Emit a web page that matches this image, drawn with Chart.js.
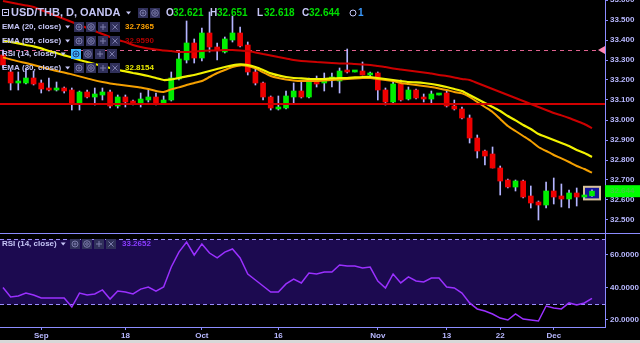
<!DOCTYPE html>
<html>
<head>
<meta charset="utf-8">
<script src="https://cdn.jsdelivr.net/npm/chart.js@4"></script>
<style>
  html, body { margin: 0; padding: 0; background: #000; width: 640px; height: 343px; overflow: hidden; }
  #wrap { position: relative; width: 640px; height: 343px; }
  canvas { position: absolute; left: 0; }
  #price { top: 0; }
  #rsi { top: 234px; }
  #foot { position: absolute; left: 0; top: 340px; width: 640px; height: 3px; background: #d8d8d8; }
</style>
</head>
<body>
<div id="wrap">
  <canvas id="price" width="640" height="234"></canvas>
  <canvas id="rsi" width="640" height="106"></canvas>
  <div id="foot"></div>
</div>
<script>
// USD/THB daily candles (one entry per trading day, oldest first)
const opens = [33.325,33.24,33.185,33.185,33.21,33.185,33.16,33.15,33.16,33.15,
  33.08,33.14,33.115,33.125,33.14,33.07,33.115,33.095,33.08,33.10,
  33.115,33.085,33.10,33.205,33.30,33.385,33.31,33.435,33.365,33.34,
  33.40,33.435,33.375,33.24,33.185,33.115,33.055,33.06,33.115,33.145,
  33.115,33.195,33.185,33.205,33.195,33.245,33.24,33.245,33.225,33.235,
  33.15,33.09,33.18,33.105,33.15,33.115,33.105,33.125,33.135,33.07,
  33.055,33.01,32.91,32.845,32.83,32.76,32.70,32.665,32.695,32.62,
  32.59,32.575,32.645,32.62,32.605,32.635,32.615,32.621];
const highs = [33.35,33.25,33.24,33.26,33.245,33.20,33.21,33.19,33.165,33.16,
  33.145,33.15,33.16,33.16,33.15,33.125,33.125,33.10,33.135,33.15,
  33.135,33.12,33.24,33.34,33.495,33.405,33.46,33.54,33.385,33.415,
  33.52,33.465,33.39,33.26,33.19,33.12,33.12,33.145,33.185,33.19,
  33.21,33.22,33.235,33.235,33.26,33.355,33.245,33.29,33.24,33.24,
  33.16,33.19,33.20,33.165,33.155,33.13,33.145,33.13,33.145,33.10,
  33.065,33.025,32.925,32.85,32.865,32.77,32.705,32.70,32.70,32.67,
  32.595,32.69,32.71,32.68,32.65,32.66,32.625,32.651];
const lows = [33.26,33.15,33.15,33.18,33.175,33.135,33.145,33.145,33.135,33.05,
  33.05,33.11,33.075,33.10,33.06,33.06,33.065,33.075,33.065,33.09,
  33.075,33.08,33.095,33.20,33.285,33.285,33.295,33.34,33.30,33.335,
  33.39,33.365,33.225,33.175,33.10,33.05,33.05,33.055,33.085,33.11,
  33.11,33.165,33.145,33.165,33.135,33.235,33.24,33.225,33.215,33.10,
  33.075,33.085,33.095,33.10,33.105,33.09,33.085,33.125,33.065,33.05,
  33.005,32.885,32.81,32.775,32.76,32.625,32.66,32.645,32.61,32.56,
  32.50,32.56,32.58,32.565,32.56,32.57,32.61,32.618];
const closes = [33.275,33.185,33.195,33.21,33.18,33.155,33.15,33.16,33.145,33.085,
  33.14,33.115,33.13,33.14,33.07,33.115,33.09,33.085,33.105,33.115,
  33.085,33.10,33.21,33.305,33.385,33.31,33.435,33.365,33.35,33.405,
  33.435,33.37,33.24,33.185,33.115,33.06,33.065,33.12,33.145,33.115,
  33.195,33.18,33.20,33.21,33.245,33.24,33.245,33.225,33.235,33.15,
  33.09,33.18,33.10,33.15,33.11,33.105,33.13,33.13,33.07,33.055,
  33.01,32.91,32.845,32.82,32.76,32.695,32.665,32.695,32.615,32.585,
  32.575,32.645,32.615,32.605,32.635,32.615,32.622,32.644];

const ema20 = [33.313,33.303,33.293,33.285,33.275,33.265,33.255,33.245,33.238,33.228,
  33.218,33.208,33.198,33.19,33.183,33.178,33.173,33.168,33.163,33.155,
  33.145,33.14,33.153,33.163,33.175,33.185,33.195,33.215,33.235,33.25,
  33.265,33.273,33.27,33.258,33.238,33.22,33.21,33.203,33.198,33.195,
  33.195,33.195,33.198,33.20,33.203,33.205,33.208,33.21,33.21,33.205,
  33.20,33.195,33.185,33.18,33.175,33.17,33.165,33.158,33.15,33.14,
  33.133,33.115,33.09,33.065,33.04,33.005,32.97,32.945,32.92,32.895,
  32.865,32.845,32.825,32.808,32.79,32.77,32.755,32.7365];
const ema30 = [33.398,33.39,33.383,33.375,33.368,33.358,33.345,33.335,33.323,33.313,
  33.30,33.29,33.28,33.27,33.26,33.25,33.243,33.235,33.228,33.22,
  33.21,33.20,33.203,33.21,33.218,33.225,33.235,33.245,33.255,33.265,
  33.273,33.278,33.275,33.265,33.25,33.233,33.223,33.215,33.21,33.208,
  33.205,33.205,33.205,33.208,33.21,33.21,33.213,33.215,33.215,33.21,
  33.205,33.20,33.195,33.19,33.188,33.185,33.18,33.173,33.165,33.155,
  33.145,33.125,33.105,33.085,33.065,33.045,33.02,32.998,32.975,32.955,
  32.93,32.915,32.90,32.885,32.87,32.85,32.835,32.8154];
const ema55 = [33.595,33.588,33.58,33.573,33.565,33.55,33.535,33.52,33.505,33.49,
  33.475,33.46,33.445,33.43,33.415,33.40,33.39,33.375,33.365,33.358,
  33.353,33.348,33.345,33.34,33.34,33.343,33.345,33.348,33.348,33.35,
  33.35,33.348,33.345,33.338,33.33,33.323,33.315,33.308,33.30,33.295,
  33.293,33.29,33.288,33.285,33.283,33.283,33.28,33.278,33.275,33.27,
  33.265,33.258,33.253,33.248,33.243,33.238,33.233,33.225,33.22,33.213,
  33.205,33.20,33.185,33.17,33.155,33.14,33.125,33.11,33.095,33.08,
  33.065,33.05,33.035,33.023,33.01,32.995,32.98,32.959];

const rsi14 = [40,34.2,34.8,36.6,35.4,33.5,33.5,33.6,33.5,28,
  36.6,35.4,36,38.5,32.9,37.8,37.2,36,39,40.3,
  37.8,40.3,52.6,61.8,68,60,66.8,61.2,58.2,61.8,
  63.7,58.2,48.3,44.6,40.9,37.2,37.2,42.2,45.2,42.8,
  48.9,48.3,49.5,49.5,53.8,53.2,53.2,52,52.6,44,
  39.7,48.3,42.8,46.5,44,43.4,45.8,45.8,40.3,39.7,
  36.6,30.5,26.8,25.5,23.7,21.2,20,23.7,20.6,20,
  19.4,28.6,27.4,26.8,30.5,29.2,30.5,33.2652];

const dateTickIdx = [5, 16, 26, 36, 49, 58, 65, 72];
const dateTickText = ['Sep', '18', 'Oct', '16', 'Nov', '13', '22', 'Dec'];
const priceTicks = [32.5, 32.6, 32.7, 32.8, 32.9, 33.0, 33.1, 33.2, 33.3, 33.4, 33.5, 33.6];
const rsiTicks = [20, 40, 60];
const supportLevel = 33.08;
const alertLevel = 33.35;
const rsiBand = [30, 70];

const UP = '#00ee00', DOWN = '#ee0000', WICK = '#b4b4ff';
const AXIS = '#8c8cff', LABEL = '#b8b8ff', TEXT = '#c6c6f6';
const FONT = '"Liberation Sans", Arial, sans-serif';
const last = opens.length - 1;

const isUp = i => closes[i] >= opens[i];
const bodies = opens.map((o, i) => ({ x: i, y: [Math.min(o, closes[i]), Math.max(o, closes[i])] }));
const wicks = lows.map((l, i) => ({ x: i, y: [l, highs[i]] }));
const pts = arr => arr.map((v, i) => ({ x: i, y: v }));
const candleColors = opens.map((o, i) => isUp(i) ? UP : DOWN);

const xRange = { min: -0.39, max: 78.7 };

function caret(ctx, x, y) {
  ctx.fillStyle = TEXT;
  ctx.beginPath();
  ctx.moveTo(x, y - 1.5); ctx.lineTo(x + 5, y - 1.5); ctx.lineTo(x + 2.5, y + 1.5);
  ctx.closePath(); ctx.fill();
}

function boxes(ctx, x0, y, kinds, highlight) {
  kinds.forEach((g, i) => {
    const bx = x0 + i * 12;
    const hl = highlight && i === 0;
    ctx.fillStyle = hl ? '#3fb6ff' : '#30305a';
    ctx.fillRect(bx, y - 5, 10, 10);
    ctx.strokeStyle = hl ? '#1a3c80' : '#7c7cab';
    ctx.lineWidth = 1;
    ctx.beginPath();
    if (g === 'eye') {
      ctx.arc(bx + 5, y, 3, 0, Math.PI * 2);
      ctx.moveTo(bx + 6, y); ctx.arc(bx + 5, y, 1, 0, Math.PI * 2);
    } else if (g === 'gear') {
      ctx.arc(bx + 5, y, 3.3, 0, Math.PI * 2);
      ctx.moveTo(bx + 6.3, y); ctx.arc(bx + 5, y, 1.3, 0, Math.PI * 2);
    } else if (g === 'plus') {
      ctx.moveTo(bx + 2, y); ctx.lineTo(bx + 8, y);
      ctx.moveTo(bx + 5, y - 3); ctx.lineTo(bx + 5, y + 3);
    } else {
      ctx.moveTo(bx + 2.5, y - 2.5); ctx.lineTo(bx + 7.5, y + 2.5);
      ctx.moveTo(bx + 7.5, y - 2.5); ctx.lineTo(bx + 2.5, y + 2.5);
    }
    ctx.stroke();
  });
}

function text(ctx, s, x, y, color, font) {
  ctx.font = font;
  ctx.fillStyle = color;
  ctx.textBaseline = 'middle';
  ctx.textAlign = 'left';
  ctx.fillText(s, x, y);
}

const ALL = ['eye', 'gear', 'plus', 'cross'];

const priceOverlay = {
  id: 'priceOverlay',
  beforeDatasetsDraw(chart) {
    const { ctx, chartArea: a, scales: { x, y } } = chart;
    ctx.save();
    // alert level
    const ya = Math.round(y.getPixelForValue(alertLevel)) + 0.5;
    ctx.strokeStyle = '#e0628f';
    ctx.lineWidth = 1;
    ctx.setLineDash([4, 4]);
    ctx.beginPath(); ctx.moveTo(a.left, ya); ctx.lineTo(a.right, ya); ctx.stroke();
    ctx.setLineDash([]);
    // highlighted last bar
    const cx = x.getPixelForValue(last);
    const t = y.getPixelForValue(highs[last]) - 3, b = y.getPixelForValue(lows[last]) + 3;
    ctx.fillStyle = '#14149a';
    ctx.fillRect(cx - 8, t, 16, b - t);
    ctx.strokeStyle = '#d9c39a';
    ctx.lineWidth = 2;
    ctx.strokeRect(cx - 8, t, 16, b - t);
    ctx.restore();
  },
  afterDatasetsDraw(chart) {
    const { ctx, chartArea: a, scales: { y } } = chart;
    ctx.save();
    const ys = y.getPixelForValue(supportLevel);
    ctx.strokeStyle = '#d00000';
    ctx.lineWidth = 2;
    ctx.beginPath(); ctx.moveTo(a.left, ys); ctx.lineTo(a.right, ys); ctx.stroke();
    ctx.restore();
  },
  afterDraw(chart) {
    const { ctx, chartArea: a, scales: { y } } = chart;
    ctx.save();
    // alert marker on axis
    const ya = y.getPixelForValue(alertLevel);
    ctx.fillStyle = '#ff86b6';
    ctx.beginPath();
    ctx.moveTo(a.right - 7, ya); ctx.lineTo(a.right, ya - 4); ctx.lineTo(a.right, ya + 4);
    ctx.closePath(); ctx.fill();
    // last price label
    const yl = y.getPixelForValue(closes[last]);
    ctx.fillStyle = '#00ff00';
    ctx.fillRect(a.right, yl - 6, 640 - a.right, 12);
    text(ctx, closes[last].toFixed(3), a.right + 5, yl, '#3fcf3f', 'bold 8px ' + FONT);
    // pane separator
    ctx.strokeStyle = AXIS;
    ctx.lineWidth = 1;
    ctx.beginPath(); ctx.moveTo(0, 233.5); ctx.lineTo(640, 233.5); ctx.stroke();

    // header
    ctx.strokeStyle = TEXT;
    ctx.strokeRect(2.5, 9.5, 6, 6);
    ctx.beginPath(); ctx.moveTo(4, 12.5); ctx.lineTo(7, 12.5); ctx.stroke();
    text(ctx, 'USD/THB, D, OANDA', 11, 13, TEXT, 'bold 11px ' + FONT);
    caret(ctx, 126, 13);
    boxes(ctx, 138, 13, ['eye', 'gear'], false);
    const f10 = 'bold 10px ' + FONT;
    const ohlc = [['O', opens[last], 166], ['H', highs[last], 210], ['L', lows[last], 257], ['C', closes[last], 302]];
    ohlc.forEach(([k, v, px]) => {
      text(ctx, k, px, 13, TEXT, f10);
      text(ctx, v.toFixed(3), px + 7, 13, '#00dd00', f10);
    });
    // alarm
    ctx.strokeStyle = TEXT;
    ctx.beginPath(); ctx.arc(353, 13, 3, 0, Math.PI * 2); ctx.stroke();
    text(ctx, '1', 358, 13, '#3b9bff', f10);

    const f8 = 'bold 8px ' + FONT;
    const rows = [
      ['EMA (20, close)', 27, ema20[last].toFixed(4), '#ffa200', false],
      ['EMA (55, close)', 41, ema55[last].toFixed(4), '#b00000', false],
      ['RSI (14, close)', 54, null, null, true],
      ['EMA (30, close)', 68, ema30[last].toFixed(4), '#e8e800', false]
    ];
    rows.forEach(([label, ry, val, col, hl]) => {
      text(ctx, label, 2, ry, TEXT, f8);
      const w = ctx.measureText(label).width;
      caret(ctx, w + 6, ry);
      boxes(ctx, hl ? 71 : 74, ry, ALL, hl);
      if (val) text(ctx, val, 125, ry, col, f8);
    });
    ctx.restore();
  }
};

const rsiOverlay = {
  id: 'rsiOverlay',
  beforeDatasetsDraw(chart) {
    const { ctx, chartArea: a, scales: { y } } = chart;
    ctx.save();
    const yt = Math.round(y.getPixelForValue(rsiBand[1])) + 0.5;
    const yb = Math.round(y.getPixelForValue(rsiBand[0])) + 0.5;
    ctx.fillStyle = '#1c0a50';
    ctx.fillRect(a.left, yt, a.right - a.left, yb - yt);
    ctx.strokeStyle = '#9a8cff';
    ctx.lineWidth = 1;
    ctx.setLineDash([4, 3]);
    ctx.beginPath();
    ctx.moveTo(a.left, yt); ctx.lineTo(a.right, yt);
    ctx.moveTo(a.left, yb); ctx.lineTo(a.right, yb);
    ctx.stroke();
    ctx.restore();
  },
  afterDraw(chart) {
    const { ctx } = chart;
    ctx.save();
    const f8 = 'bold 8px ' + FONT;
    text(ctx, 'RSI (14, close)', 2, 10, TEXT, f8);
    const w = ctx.measureText('RSI (14, close)').width;
    caret(ctx, w + 6, 10);
    boxes(ctx, 70, 10, ALL, false);
    text(ctx, rsi14[last].toFixed(4), 122, 10, '#8a3cff', f8);
    ctx.restore();
  }
};

const rightAxis = (min, max, ticks, digits) => ({
  position: 'right',
  min, max,
  afterFit(s) { s.width = 35; s.paddingTop = 0; s.paddingBottom = 0; },
  afterBuildTicks(s) { s.ticks = ticks.map(v => ({ value: v })); },
  grid: { drawOnChartArea: false, drawTicks: true, tickLength: 3, color: AXIS },
  border: { color: AXIS },
  ticks: { color: LABEL, padding: 2, font: { size: 8, weight: 'bold', family: FONT }, callback: v => Number(v).toFixed(digits) }
});

new Chart(document.getElementById('price'), {
  type: 'bar',
  data: {
    datasets: [
      { type: 'line', data: pts(ema55), borderColor: '#cc0000', borderWidth: 2, pointRadius: 0, tension: 0.2, order: -3 },
      { type: 'line', data: pts(ema30), borderColor: '#f2f200', borderWidth: 2.2, pointRadius: 0, tension: 0.2, order: -2 },
      { type: 'line', data: pts(ema20), borderColor: '#f5a000', borderWidth: 2, pointRadius: 0, tension: 0.2, order: -1 },
      { data: bodies, backgroundColor: candleColors, barThickness: 5, minBarLength: 2, grouped: false, order: 1 },
      { data: wicks, backgroundColor: WICK, barThickness: 1, grouped: false, order: 2 }
    ]
  },
  options: {
    responsive: false,
    animation: false,
    layout: { padding: 0 },
    plugins: { legend: { display: false }, tooltip: { enabled: false } },
    scales: {
      x: { type: 'linear', min: xRange.min, max: xRange.max, offset: false, display: false },
      y: rightAxis(32.43, 33.6, priceTicks, 3)
    }
  },
  plugins: [priceOverlay]
});

new Chart(document.getElementById('rsi'), {
  type: 'line',
  data: {
    datasets: [
      { data: pts(rsi14), borderColor: '#9a30ff', borderWidth: 1.5, pointRadius: 0, tension: 0 }
    ]
  },
  options: {
    responsive: false,
    animation: false,
    layout: { padding: 0 },
    plugins: { legend: { display: false }, tooltip: { enabled: false } },
    scales: {
      x: {
        type: 'linear', min: xRange.min, max: xRange.max, offset: false,
        afterFit(s) { s.height = 13; s.paddingLeft = 0; s.paddingRight = 0; },
        afterBuildTicks(s) { s.ticks = dateTickIdx.map(v => ({ value: v })); },
        grid: { drawOnChartArea: false, drawTicks: true, tickLength: 3, color: AXIS },
        border: { color: AXIS },
        ticks: {
          color: LABEL, padding: 1, maxRotation: 0, autoSkip: false,
          font: { size: 8, weight: 'bold', family: FONT },
          callback: v => dateTickText[dateTickIdx.indexOf(v)]
        }
      },
      y: rightAxis(15.69, 72.92, rsiTicks, 4)
    }
  },
  plugins: [rsiOverlay]
});
</script>
</body>
</html>
